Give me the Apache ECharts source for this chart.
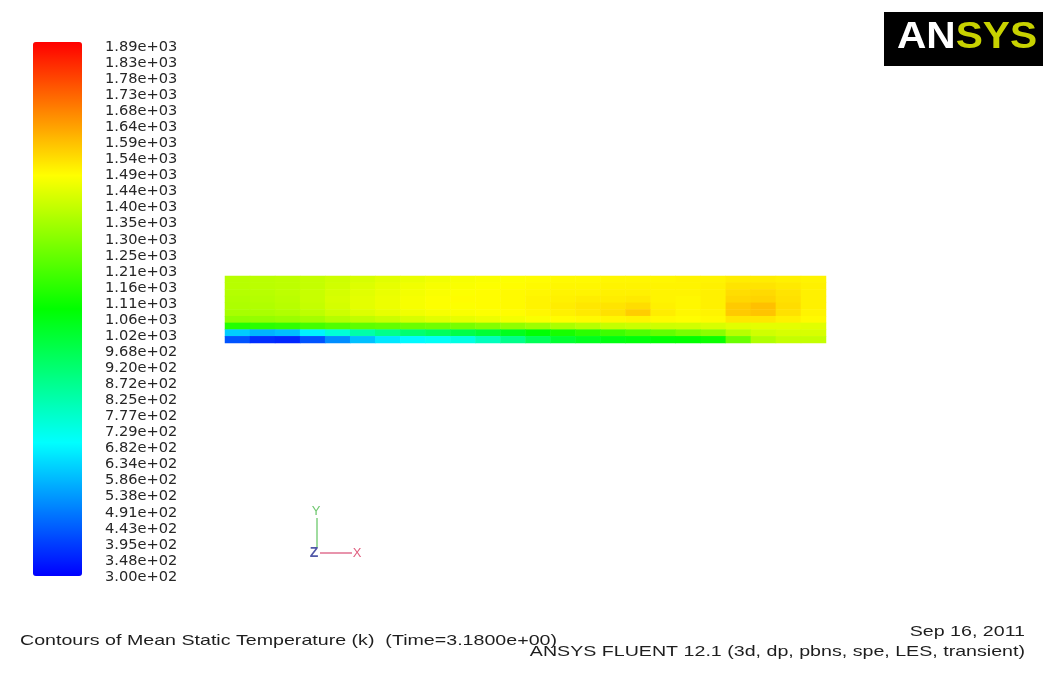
<!DOCTYPE html>
<html>
<head>
<meta charset="utf-8">
<script src="https://cdn.jsdelivr.net/npm/echarts@6/dist/echarts.min.js"></script>
<style>
html,body{margin:0;padding:0;background:#fff;}
#chart{width:1048px;height:684px;}
</style>
</head>
<body>
<div id="chart"></div>
<script>
// Colorbar tick labels (top to bottom)
const colorbarLabels = ['1.89e+03','1.83e+03','1.78e+03','1.73e+03','1.68e+03','1.64e+03','1.59e+03','1.54e+03','1.49e+03','1.44e+03','1.40e+03','1.35e+03','1.30e+03','1.25e+03','1.21e+03','1.16e+03','1.11e+03','1.06e+03','1.02e+03','9.68e+02','9.20e+02','8.72e+02','8.25e+02','7.77e+02','7.29e+02','6.82e+02','6.34e+02','5.86e+02','5.38e+02','4.91e+02','4.43e+02','3.95e+02','3.48e+02','3.00e+02'];
const tempMin = 300;
const tempMax = 1890;

// Mean static temperature (K), domain rows from top to bottom, columns left to right
const row0 = [1380,1385,1390,1400,1415,1430,1445,1460,1470,1480,1485,1490,1495,1500,1500,1505,1505,1505,1510,1510,1520,1520,1515,1510];
const row1 = [1380,1385,1390,1400,1420,1440,1455,1470,1480,1485,1490,1495,1500,1505,1505,1510,1510,1510,1510,1515,1535,1535,1525,1515];
const row2 = [1375,1380,1390,1405,1425,1445,1460,1475,1485,1490,1495,1500,1505,1510,1510,1515,1515,1510,1510,1515,1545,1550,1535,1515];
const row3 = [1370,1375,1385,1405,1430,1450,1465,1480,1490,1495,1495,1500,1510,1515,1520,1520,1525,1510,1505,1515,1555,1560,1540,1515];
const row4 = [1365,1370,1380,1400,1425,1450,1465,1480,1490,1490,1495,1500,1510,1520,1530,1535,1545,1515,1505,1515,1575,1590,1545,1515];
const row5 = [1355,1360,1370,1390,1415,1440,1455,1470,1480,1485,1490,1495,1505,1515,1525,1540,1570,1520,1505,1510,1575,1585,1540,1510];
const row6 = [1320,1325,1335,1350,1375,1395,1410,1430,1445,1455,1465,1475,1485,1495,1500,1505,1510,1500,1495,1500,1530,1530,1515,1500];
const row7 = [1150,1160,1170,1200,1220,1240,1250,1260,1270,1280,1300,1320,1340,1360,1380,1400,1410,1415,1420,1430,1445,1450,1450,1445];
const row8 = [620,580,600,680,760,830,880,920,950,980,1010,1050,1090,1130,1160,1190,1220,1250,1280,1310,1380,1420,1430,1430];
const row9 = [430,370,360,430,520,600,660,690,710,740,800,880,960,1020,1050,1070,1080,1090,1095,1110,1260,1370,1400,1400];
const rows = [row0,row1,row2,row3,row4,row5,row6,row7,row8,row9];

const xCells = row0.map((_, i) => i);
const yCells = rows.map((_, j) => j);
const heatData = [];
rows.forEach((r, j) => r.forEach((v, i) => heatData.push([i, j, v])));

const titleText = 'Contours of Mean Static Temperature (k)  (Time=3.1800e+00)';
const dateText = 'Sep 16, 2011';
const solverText = 'ANSYS FLUENT 12.1 (3d, dp, pbns, spe, LES, transient)';

function measure(text, font) {
  const c = document.createElement('canvas').getContext('2d');
  c.font = font;
  return c.measureText(text).width;
}
const footFont = '15px "Liberation Sans"';
const footScale = 537 / measure(titleText, footFont);
const logoFont = 'bold 36px "Liberation Sans"';
const logoScale = 140 / measure('ANSYS', logoFont);

const chart = echarts.init(document.getElementById('chart'), null, {renderer: 'canvas'});
chart.setOption({
  backgroundColor: '#ffffff',
  animation: false,
  grid: [
    {left: 225, top: 276, width: 601, height: 67},
    {left: 95, top: 47, width: 1, height: 530}
  ],
  xAxis: [
    {type: 'category', gridIndex: 0, data: xCells, show: false},
    {type: 'value', gridIndex: 1, show: false, min: 0, max: 1}
  ],
  yAxis: [
    {type: 'category', gridIndex: 0, data: yCells, inverse: true, show: false},
    {type: 'category', gridIndex: 1, data: colorbarLabels, inverse: true, boundaryGap: false,
     position: 'right',
     axisLine: {show: false}, axisTick: {show: false}, splitLine: {show: false},
     axisLabel: {interval: 0, margin: 9, color: '#262626', fontFamily: 'DejaVu Sans', fontSize: 14.6}}
  ],
  visualMap: {
    type: 'continuous',
    min: tempMin, max: tempMax,
    seriesIndex: 0,
    calculable: false,
    left: 33, top: 42,
    itemWidth: 49, itemHeight: 534,
    padding: 0,
    text: null,
    showLabel: false,
    inRange: {color: ['#0000ff', '#00ffff', '#00ff00', '#ffff00', '#ff0000']}
  },
  series: [{
    type: 'heatmap',
    xAxisIndex: 0, yAxisIndex: 0,
    data: heatData,
    silent: true,
    itemStyle: {borderWidth: 0},
    progressive: 0
  }],
  graphic: [
    {type: 'rect', shape: {x: 884, y: 12, width: 159, height: 54}, style: {fill: '#000000'}, silent: true},
    {type: 'text', x: 897, y: 38, scaleX: logoScale, silent: true,
     style: {text: '{a|AN}{b|SYS}', verticalAlign: 'middle', align: 'left',
       rich: {a: {fill: '#ffffff', font: logoFont}, b: {fill: '#c8d200', font: logoFont}}}},
    {type: 'text', x: 20, y: 641, scaleX: footScale, silent: true,
     style: {text: titleText, font: footFont, fill: '#1e1e1e', align: 'left', verticalAlign: 'middle'}},
    {type: 'text', x: 1025, y: 632, scaleX: footScale, silent: true,
     style: {text: dateText, font: footFont, fill: '#1e1e1e', align: 'right', verticalAlign: 'middle'}},
    {type: 'text', x: 1025, y: 652, scaleX: footScale, silent: true,
     style: {text: solverText, font: footFont, fill: '#1e1e1e', align: 'right', verticalAlign: 'middle'}},
    // axis triad
    {type: 'line', shape: {x1: 317, y1: 518, x2: 317, y2: 548}, style: {stroke: '#80d080', lineWidth: 1.5}, silent: true},
    {type: 'line', shape: {x1: 320, y1: 553, x2: 352, y2: 553}, style: {stroke: '#e07090', lineWidth: 1.5}, silent: true},
    {type: 'text', x: 316, y: 511, silent: true, style: {text: 'Y', font: '13px "Liberation Sans"', fill: '#70c870', align: 'center', verticalAlign: 'middle'}},
    {type: 'text', x: 314, y: 553, silent: true, style: {text: 'Z', font: 'bold 14px "Liberation Sans"', fill: '#5058a8', align: 'center', verticalAlign: 'middle'}},
    {type: 'text', x: 357, y: 553, silent: true, style: {text: 'X', font: '13px "Liberation Sans"', fill: '#e06080', align: 'center', verticalAlign: 'middle'}}
  ]
});
</script>
</body>
</html>
